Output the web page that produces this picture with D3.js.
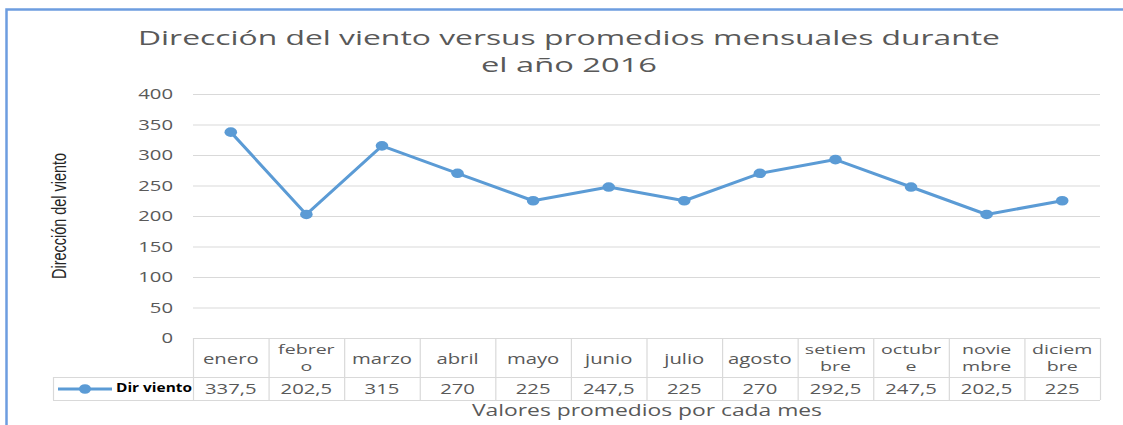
<!DOCTYPE html>
<html><head><meta charset="utf-8">
<script src="https://cdn.jsdelivr.net/npm/d3@7"></script>
<style>body{margin:0;background:#fff}svg{display:block}</style>
</head><body>
<svg id="c" width="1123" height="425"></svg>
<script>
const months = ["enero","febrero","marzo","abril","mayo","junio","julio","agosto","setiembre","octubre","noviembre","diciembre"];
const monthLines = [["enero"],["febrer","o"],["marzo"],["abril"],["mayo"],["junio"],["julio"],["agosto"],["setiem","bre"],["octubr","e"],["novie","mbre"],["diciem","bre"]];
const dirViento = [337.5,202.5,315,270,225,247.5,225,270,292.5,247.5,202.5,225];
const valueLabels = ["337,5","202,5","315","270","225","247,5","225","270","292,5","247,5","202,5","225"];
const yTicks = [0,50,100,150,200,250,300,350,400];
const seriesName = "Dir viento";
const titleLines = ["Dirección del viento versus promedios mensuales durante","el año 2016"];
const yTitle = "Dirección del viento";
const xTitle = "Valores promedios por cada mes";

const svg = d3.select("#c");
const SX = 1.45, FONT = "'Open Sans', sans-serif", GRAY = "#595959", LINE = "#d9d9d9", BLUE = "#5b9bd5";
const L = 193, R = 1100, T = 94, B = 338;
const x = d3.scaleBand().domain(months).range([L, R]);
const y = d3.scaleLinear().domain([0, 400]).range([B, T]);

// frame
svg.append("rect").attr("x",6.5).attr("y",9.5).attr("width",1130).attr("height",430)
  .attr("fill","none").attr("stroke","#6d9de0").attr("stroke-width",2.5);

function stext(g, tx, ty, str, opts={}) {
  return g.append("text").attr("transform",`translate(${tx},${ty}) scale(${opts.sx||SX},1)`)
    .attr("text-anchor",opts.anchor||"middle").attr("font-family",opts.font||FONT)
    .attr("font-size",opts.size||14).attr("fill",opts.fill||GRAY)
    .attr("font-weight",opts.weight||"normal").text(str);
}

// title
const tl = svg.append("g");
[[titleLines[0],569,45,862],[titleLines[1],569,72,176]].forEach(([s,cx,by,w])=>{
  tl.append("text").attr("x",cx-w/2).attr("y",by).attr("font-family",FONT).attr("font-size",20)
    .attr("fill",GRAY).attr("textLength",w).attr("lengthAdjust","spacingAndGlyphs").text(s);
});

// gridlines
svg.append("g").selectAll("line").data(yTicks.filter(d=>d>0)).join("line")
  .attr("x1",L).attr("x2",R).attr("y1",d=>y(d)+0.5).attr("y2",d=>y(d)+0.5)
  .attr("stroke",LINE).attr("stroke-width",1);

// y tick labels
const yl = svg.append("g");
yTicks.forEach(t=>stext(yl,173,y(t)+5,String(t),{anchor:"end",size:14}));

// y title
svg.append("text").attr("transform","translate(66,216) rotate(-90)")
  .attr("text-anchor","middle").attr("font-family","'Liberation Sans Narrow','Liberation Sans',sans-serif")
  .attr("font-size",20).attr("fill","#262626").attr("textLength",126).attr("lengthAdjust","spacingAndGlyphs")
  .text(yTitle);

// data table
const tb = svg.append("g").attr("stroke",LINE).attr("stroke-width",1.2).attr("fill","none");
const rowTop = B, rowMid = 377, rowBot = 400, legL = 53;
tb.append("line").attr("x1",L).attr("x2",R).attr("y1",rowTop+0.5).attr("y2",rowTop+0.5);
tb.append("line").attr("x1",legL).attr("x2",R).attr("y1",rowMid+0.5).attr("y2",rowMid+0.5);
tb.append("line").attr("x1",legL).attr("x2",R).attr("y1",rowBot+0.5).attr("y2",rowBot+0.5);
tb.append("line").attr("x1",legL+0.5).attr("x2",legL+0.5).attr("y1",rowMid).attr("y2",rowBot);
months.forEach(m=>{
  tb.append("line").attr("x1",x(m)+0.5).attr("x2",x(m)+0.5).attr("y1",rowTop).attr("y2",rowBot);
});
tb.append("line").attr("x1",R+0.5).attr("x2",R+0.5).attr("y1",rowTop).attr("y2",rowBot);

const hd = svg.append("g");
months.forEach((m,i)=>{
  const cx = x(m)+x.bandwidth()/2, ls = monthLines[i];
  if (ls.length===1) stext(hd,cx,364,ls[0],{size:14});
  else { stext(hd,cx,354,ls[0],{size:13.5}); stext(hd,cx,371,ls[1],{size:13.5}); }
  stext(hd,cx,394,valueLabels[i],{size:14});
});

// legend in table
const lg = svg.append("g");
lg.append("line").attr("x1",58).attr("x2",112).attr("y1",389).attr("y2",389).attr("stroke",BLUE).attr("stroke-width",3);
lg.append("ellipse").attr("cx",85).attr("cy",389).attr("rx",6).attr("ry",4.8).attr("fill",BLUE);
lg.append("text").attr("x",116).attr("y",392).attr("font-family","'Open Sans',sans-serif").attr("font-weight","bold")
  .attr("font-size",11.5).attr("fill","#000").attr("textLength",76).attr("lengthAdjust","spacingAndGlyphs").text(seriesName);

// x title
svg.append("text").attr("x",472).attr("y",416).attr("font-family",FONT).attr("font-size",16)
  .attr("fill",GRAY).attr("textLength",350).attr("lengthAdjust","spacingAndGlyphs").text(xTitle);

// series
const cx = (d,i)=>x(months[i])+x.bandwidth()/2;
svg.append("path").datum(dirViento)
  .attr("d",d3.line().x(cx).y(d=>y(d)))
  .attr("fill","none").attr("stroke",BLUE).attr("stroke-width",3).attr("stroke-linejoin","round");
svg.append("g").selectAll("ellipse").data(dirViento).join("ellipse")
  .attr("cx",cx).attr("cy",d=>y(d)).attr("rx",6.3).attr("ry",4.8).attr("fill",BLUE);
</script>
</body></html>
